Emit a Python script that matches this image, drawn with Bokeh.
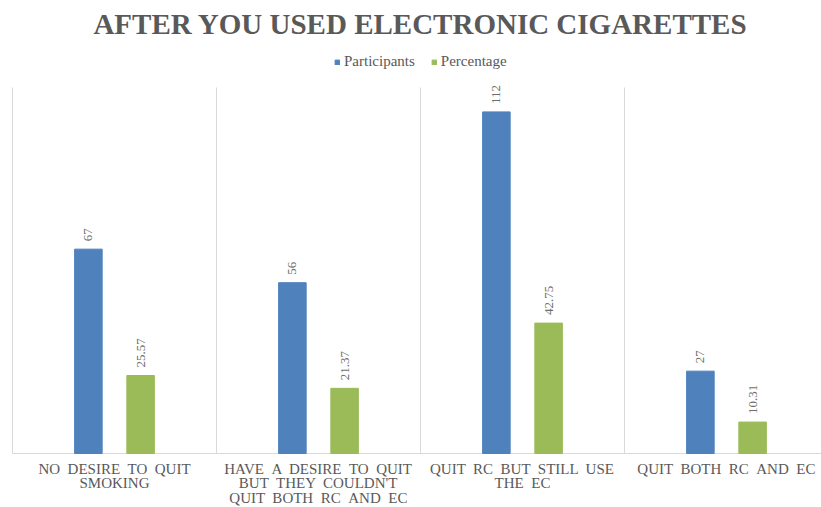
import numpy as np
from bokeh.plotting import figure
from bokeh.models import (ColumnDataSource, Range1d, Legend, LegendItem, Label)
from bokeh.core.properties import value
from bokeh.embed import file_html
from bokeh.resources import INLINE

S = " \u00a0"
categories = [S.join(["NO", "DESIRE", "TO", "QUIT"]) + "\nSMOKING",
              S.join(["HAVE", "A", "DESIRE", "TO", "QUIT"]) + "\n" +
              S.join(["BUT", "THEY", "COULDN'T"]) + "\n" +
              S.join(["QUIT", "BOTH", "RC", "AND", "EC"]),
              S.join(["QUIT", "RC", "BUT", "STILL", "USE"]) + "\n" + S.join(["THE", "EC"]),
              S.join(["QUIT", "BOTH", "RC", "AND", "EC"])]
participants = [67, 56, 112, 27]
percentage = [25.57, 21.37, 42.75, 10.31]
part_labels = ["67", "56", "112", "27"]
perc_labels = ["25.57", "21.37", "42.75", "10.31"]
y_max = 120

BLUE = "#4F81BD"
GREEN = "#9BBB59"
GRAY = "#595959"
GRID = "#D9D9D9"
SERIF = "Liberation Serif"

W, H = 821, 507
left_px, top_px, base_px = 12, 87, 453
cat_px = 204
ppu = (base_px - top_px) / y_max

idx = np.arange(len(categories))
offset = 0.128
bw = 0.135

src_p = ColumnDataSource(dict(x=idx + 0.5 - offset, top=participants, lab=part_labels))
src_c = ColumnDataSource(dict(x=idx + 0.5 + offset, top=percentage, lab=perc_labels))
src_cat = ColumnDataSource(dict(x=idx + 0.5, y=np.zeros(len(idx)), lab=categories))

p = figure(width=W, height=H, output_backend="svg", toolbar_location=None,
           x_range=Range1d(-left_px / cat_px, (W - left_px) / cat_px),
           y_range=Range1d(-(H - base_px) / ppu, y_max + top_px / ppu),
           min_border=0)
p.outline_line_color = None
p.background_fill_color = "white"
p.border_fill_color = "white"
p.xaxis.visible = False
p.yaxis.visible = False
p.xgrid.visible = False
p.ygrid.visible = False

# category separators and baseline
bounds = np.arange(len(categories) + 1)
p.segment(x0=bounds, y0=np.zeros(len(bounds)), x1=bounds, y1=np.full(len(bounds), y_max),
          line_color=GRID, line_width=1)
p.segment(x0=[0], y0=[0], x1=[len(categories)], y1=[0], line_color=GRID, line_width=1)

r1 = p.vbar(x="x", top="top", width=bw, source=src_p, fill_color=BLUE, line_color=BLUE)
r2 = p.vbar(x="x", top="top", width=bw, source=src_c, fill_color=GREEN, line_color=GREEN)

for src in (src_p, src_c):
    p.text(x="x", y="top", text="lab", source=src, angle=np.pi / 2,
           x_offset=0, y_offset=-8, text_align="left", text_baseline="middle",
           text_font=value(SERIF), text_font_size="13px", text_color="#6E6E6E")

p.text(x="x", y="y", text="lab", source=src_cat, y_offset=7,
       text_align="center", text_baseline="top", text_line_height=0.92,
       text_font=value(SERIF), text_font_size="15px", text_color=GRAY)

title = Label(x=420, y=H - 23, x_units="screen", y_units="screen",
              text="AFTER YOU USED ELECTRONIC CIGARETTES", text_align="center",
              text_baseline="middle", text_font=SERIF, text_font_size="29px",
              text_font_style="bold", text_color=GRAY)
p.add_layout(title)

legend = Legend(items=[LegendItem(label="Participants", renderers=[r1]),
                       LegendItem(label="Percentage", renderers=[r2])],
                orientation="horizontal", location=(334, H - 70),
                label_text_font=SERIF, label_text_font_size="15px", label_text_color=GRAY,
                glyph_width=6, glyph_height=6, spacing=16, label_standoff=4,
                border_line_color=None, background_fill_alpha=0, padding=2, margin=0)
p.add_layout(legend)

open("out.html", "w").write(file_html(p, INLINE))
